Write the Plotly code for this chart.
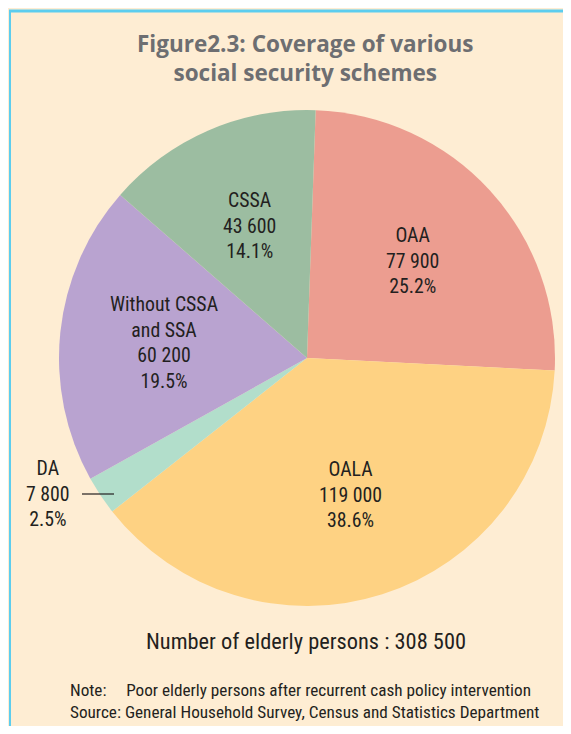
import math
import plotly.graph_objects as go

labels = ["OAA", "OALA", "DA", "Without CSSA<br>and SSA", "CSSA"]
values = [77900, 119000, 7800, 60200, 43600]
pct_text = ["25.2%", "38.6%", "2.5%", "19.5%", "14.1%"]
num_text = ["77 900", "119 000", "7 800", "60 200", "43 600"]
colors = ["#EC9D90", "#FED283", "#B2DECB", "#B9A3D0", "#9CBDA1"]
total_text = "Number of elderly persons : 308 500"

OX, OY = 8, 8  # page body margin
W, H = 571 - 2 * OX, 734 - 2 * OY


def px(x):
    return (x - OX) / W


def py(y):
    return 1 - (y - OY) / H


FONT = "Liberation Sans Narrow, Roboto Condensed, Arial Narrow, sans-serif"
TXT = "#231F20"

# pie geometry (screen pixels)
CX, CY, R = 307, 358, 248
ROT = 2  # degrees clockwise from 12 o'clock

fig = go.Figure(go.Pie(
    labels=labels, values=values,
    textinfo="none", sort=False, direction="clockwise", rotation=ROT,
    marker=dict(colors=colors, line=dict(width=0)),
    domain=dict(x=[px(CX - R), px(CX + R)], y=[py(CY + R), py(CY - R)]),
    hoverinfo="label+value+percent", showlegend=False,
))

shapes = [
    dict(type="rect", xref="paper", yref="paper", x0=px(9), x1=1, y0=0, y1=py(10),
         fillcolor="#FEEDD3", line=dict(width=0), layer="below"),
    dict(type="line", xref="paper", yref="paper", x0=px(9), x1=1, y0=py(11), y1=py(11),
         line=dict(color="#5CCDEE", width=3)),
    dict(type="line", xref="paper", yref="paper", x0=px(10), x1=px(10), y0=0, y1=py(10),
         line=dict(color="#5CCDEE", width=2)),
    dict(type="line", xref="paper", yref="paper", x0=px(82), x1=px(114), y0=py(494), y1=py(494),
         line=dict(color=TXT, width=1.2)),
]

annotations = []
# slice labels placed at mid-angle of each slice
total = sum(values)
cum = 0
for lab, val, num, pct in zip(labels, values, num_text, pct_text):
    mid = ROT + 360 * (cum + val / 2) / total
    cum += val
    if lab == "DA":
        annotations.append(dict(text=f"{lab}<br>{num}<br>{pct}", x=px(48), y=py(494),
                                xref="paper", yref="paper", showarrow=False, align="center",
                                xanchor="center", yanchor="middle",
                                font=dict(family=FONT, size=19.8, color=TXT)))
        continue
    rr = 0.58 * R
    x = CX + rr * math.sin(math.radians(mid))
    y = CY - rr * math.cos(math.radians(mid))
    annotations.append(dict(text=f"{lab}<br>{num}<br>{pct}", x=px(x), y=py(y),
                            xref="paper", yref="paper", showarrow=False, align="center",
                            xanchor="center", yanchor="middle",
                            font=dict(family=FONT, size=19.8, color=TXT)))

annotations += [
    dict(text="<b>Figure2.3: Coverage of various<br>social security schemes</b>", x=px(305), y=py(58),
         xref="paper", yref="paper", showarrow=False, align="center",
         xanchor="center", yanchor="middle",
         font=dict(family="Open Sans, Noto Sans, sans-serif", size=22.5, color="#6D6E71")),
    dict(text=total_text, x=px(306), y=py(641), xref="paper", yref="paper", showarrow=False,
         xanchor="center", yanchor="middle",
         font=dict(family=FONT, size=22.4, color=TXT)),
    dict(text="Note:     Poor elderly persons after recurrent cash policy intervention<br>"
              "Source: General Household Survey, Census and Statistics Department",
         x=px(68), y=py(701), xref="paper", yref="paper", showarrow=False, align="left",
         xanchor="left", yanchor="middle",
         font=dict(family=FONT, size=17.2, color=TXT)),
]

fig.update_layout(
    width=W, height=H, margin=dict(l=0, r=0, t=0, b=0),
    paper_bgcolor="#FEEDD3", plot_bgcolor="white",
    shapes=shapes, annotations=annotations,
)
fig.write_html("out.html")
